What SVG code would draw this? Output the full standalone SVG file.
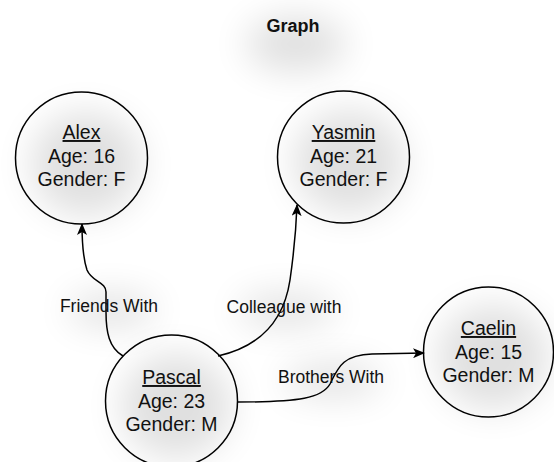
<svg xmlns="http://www.w3.org/2000/svg" width="554" height="462" viewBox="0 0 554 462">
  <style>
    .node { fill: none; stroke: #000; stroke-width: 1.5; }
    .haze { fill: #000; opacity: 0.12; filter: url(#soft); }
    .name { font-family: "Liberation Sans", Arial, sans-serif; font-size: 19.5px; fill: #111; text-anchor: middle; text-decoration: underline; }
    .attr { font-family: "Liberation Sans", Arial, sans-serif; font-size: 19.5px; fill: #111; text-anchor: middle; }
    .edge { fill: none; stroke: #000; stroke-width: 1.5; marker-end: url(#arrow); }
    .elabel { font-family: "Liberation Sans", Arial, sans-serif; font-size: 17.5px; fill: #111; text-anchor: middle; }
    .title { font-family: "Liberation Sans", Arial, sans-serif; font-size: 18px; font-weight: bold; fill: #111; text-anchor: middle; }
  </style>
  <defs>
    <filter id="soft" filterUnits="userSpaceOnUse" x="0" y="0" width="554" height="462">
      <feGaussianBlur stdDeviation="18"/>
    </filter>
    <marker id="arrow" viewBox="0 0 12 10" refX="11" refY="5" markerWidth="12" markerHeight="10" markerUnits="userSpaceOnUse" orient="auto">
      <path d="M0,0 L12,5 L0,10 L3,5 Z" fill="#000"/>
    </marker>
  </defs>
  <rect width="554" height="462" fill="#fff"/>

  <!-- soft shading behind title, nodes and labels -->
  <g id="shading">
    <ellipse class="haze" cx="296" cy="44" rx="50" ry="28" opacity="0.09"/>
    <ellipse class="haze" cx="86" cy="164" rx="55" ry="52"/>
    <ellipse class="haze" cx="349" cy="162" rx="55" ry="52"/>
    <ellipse class="haze" cx="176" cy="406" rx="55" ry="52"/>
    <ellipse class="haze" cx="493" cy="357" rx="55" ry="52"/>
    <ellipse class="haze" cx="112" cy="310" rx="45" ry="16" opacity="0.08"/>
    <ellipse class="haze" cx="287" cy="310" rx="50" ry="16" opacity="0.08"/>
    <ellipse class="haze" cx="333" cy="380" rx="50" ry="16" opacity="0.08"/>
  </g>

  <text class="title" x="293" y="32">Graph</text>

  <g id="connectors">
    <path class="edge" d="M123,356 C109,348 106,332 106,312 L106,292 C106,282 92,282 87,270 C83,258 82,244 82,224"/>
    <path class="edge" d="M218,356 C262,346 284,320 290,280 C294,252 296,232 297,205"/>
    <path class="edge" d="M238,402 C300,402 322,398 330,384 C338,368 342,355 372,354 L424,353"/>
    <text class="elabel" x="109" y="312">Friends With</text>
    <text class="elabel" x="284" y="313">Colleague with</text>
    <text class="elabel" x="331" y="383">Brothers With</text>
  </g>

  <g id="alex">
    <circle class="node" cx="81.5" cy="158" r="66"/>
    <text class="name" x="81.5" y="139">Alex</text>
    <text class="attr" x="81.5" y="163">Age: 16</text>
    <text class="attr" x="81.5" y="186">Gender: F</text>
  </g>

  <g id="yasmin">
    <circle class="node" cx="343.5" cy="157" r="66"/>
    <text class="name" x="343.5" y="139">Yasmin</text>
    <text class="attr" x="343.5" y="163">Age: 21</text>
    <text class="attr" x="343.5" y="186">Gender: F</text>
  </g>

  <g id="pascal">
    <circle class="node" cx="171.5" cy="401" r="66"/>
    <text class="name" x="171.5" y="384">Pascal</text>
    <text class="attr" x="171.5" y="408">Age: 23</text>
    <text class="attr" x="171.5" y="431">Gender: M</text>
  </g>

  <g id="caelin">
    <circle class="node" cx="488.5" cy="352" r="65"/>
    <text class="name" x="488.5" y="335">Caelin</text>
    <text class="attr" x="488.5" y="359">Age: 15</text>
    <text class="attr" x="488.5" y="382">Gender: M</text>
  </g>
</svg>
